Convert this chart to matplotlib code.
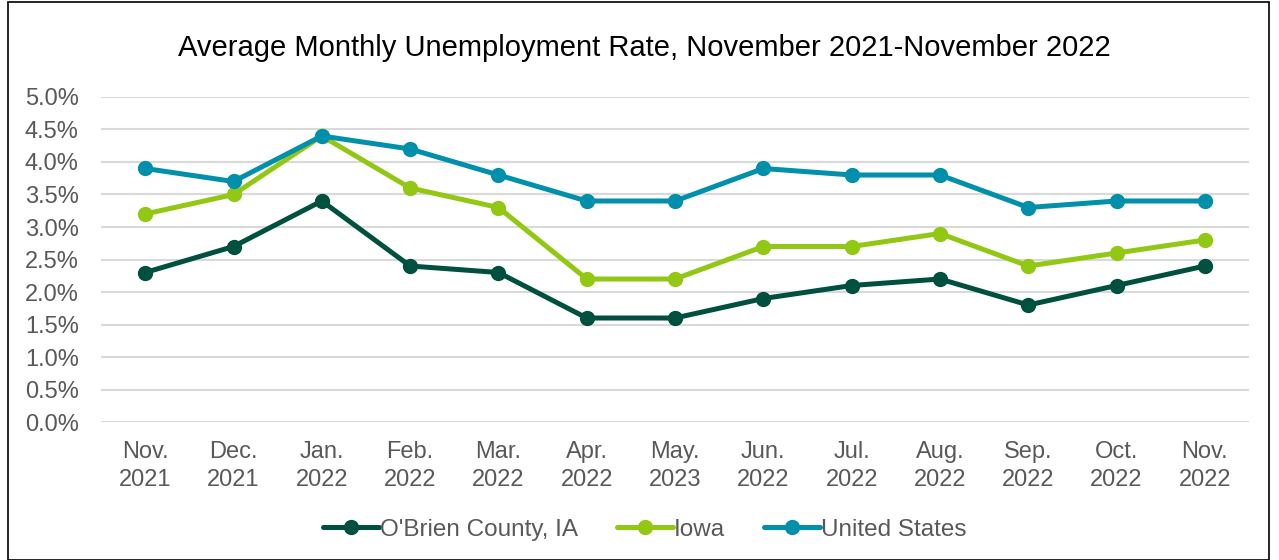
import matplotlib.pyplot as plt
from matplotlib.patches import Rectangle
from matplotlib.ticker import PercentFormatter

plt.rcParams['font.family'] = ['Liberation Sans', 'DejaVu Sans']

months = ["Nov.\n2021", "Dec.\n2021", "Jan.\n2022", "Feb.\n2022", "Mar.\n2022", "Apr.\n2022",
          "May.\n2023", "Jun.\n2022", "Jul.\n2022", "Aug.\n2022", "Sep.\n2022", "Oct.\n2022",
          "Nov.\n2022"]
obrien = [2.3, 2.7, 3.4, 2.4, 2.3, 1.6, 1.6, 1.9, 2.1, 2.2, 1.8, 2.1, 2.4]
iowa = [3.2, 3.5, 4.4, 3.6, 3.3, 2.2, 2.2, 2.7, 2.7, 2.9, 2.4, 2.6, 2.8]
us = [3.9, 3.7, 4.4, 4.2, 3.8, 3.4, 3.4, 3.9, 3.8, 3.8, 3.3, 3.4, 3.4]

series = [
    ("O'Brien County, IA", obrien, "#00503F"),
    ("Iowa", iowa, "#92C814"),
    ("United States", us, "#0090AC"),
]

fig = plt.figure(figsize=(12.79, 5.6), dpi=100)
ax = fig.add_axes([0.079, 0.2464, 0.8976, 0.5804])

x = list(range(len(months)))
for name, vals, color in series:
    ax.plot(x, vals, color=color, lw=3.6, marker="o", markersize=10, label=name,
            solid_capstyle="round")

ax.set_xlim(-0.5, len(months) - 0.5)
ax.set_ylim(0, 5.0)
ax.set_yticks([i * 0.5 for i in range(11)])
ax.yaxis.set_major_formatter(PercentFormatter(decimals=1))
ax.set_xticks(x)
ax.set_xticklabels(months, linespacing=1.3)
ax.tick_params(axis="both", length=0, labelsize=17, labelcolor="#595959")
ax.tick_params(axis="x", pad=14)
ax.tick_params(axis="y", pad=16)
ax.grid(axis="y", color="#D9D9D9", lw=1.5)
ax.set_axisbelow(True)
for s in ax.spines.values():
    s.set_visible(False)

fig.text(0.504, 0.914, "Average Monthly Unemployment Rate, November 2021-November 2022",
         ha="center", va="center", fontsize=21, color="black")

leg = fig.legend(loc="center", bbox_to_anchor=(0.504, 0.054), ncol=3, frameon=False,
                 fontsize=17.5, handlelength=2.3, handletextpad=0.05, columnspacing=1.6)
for t in leg.get_texts():
    t.set_color("#595959")

fig.patches.append(Rectangle((0.0065, 0.0), 0.986, 0.997, transform=fig.transFigure,
                             fill=False, edgecolor="black", lw=1.2))

fig.savefig("out.png", dpi=100)
